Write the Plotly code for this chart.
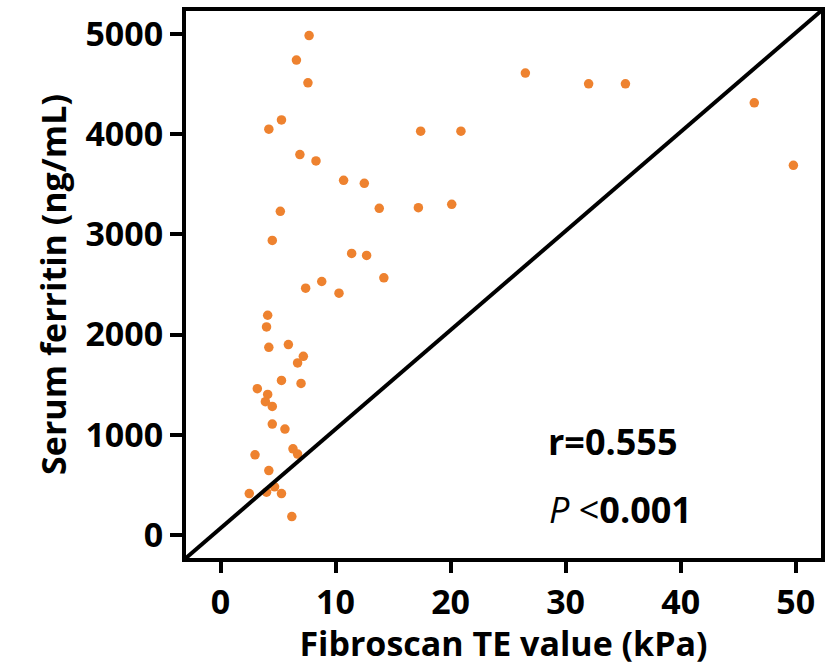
import plotly.graph_objects as go

# Fibroscan TE value (kPa)
te_kpa = [7.7, 6.6, 7.6, 5.3, 4.2, 6.9, 8.3, 10.7, 12.5, 13.8, 5.2, 4.5, 11.4, 12.7,
          8.8, 7.4, 10.3, 4.1, 4.0, 4.2, 5.9, 7.2, 6.7, 5.3, 7.0, 3.2, 4.1, 3.9, 4.5,
          4.5, 5.6, 6.3, 6.7, 3.0, 4.2, 4.7, 2.5, 4.0, 5.3, 6.2,
          26.5, 32.0, 35.2, 46.4, 49.8, 17.4, 20.9, 17.2, 20.1, 14.2]
# Serum ferritin (ng/mL)
ferritin = [4985, 4740, 4513, 4143, 4050, 3797, 3733, 3540, 3510, 3260, 3230, 2940, 2810, 2790,
            2530, 2463, 2413, 2193, 2077, 1873, 1900, 1783, 1717, 1543, 1513, 1460, 1403, 1330, 1283,
            1107, 1057, 860, 807, 800, 643, 480, 413, 427, 413, 183,
            4610, 4503, 4503, 4313, 3690, 4030, 4030, 3267, 3300, 2567]

x_ticks = [0, 10, 20, 30, 40, 50]
y_ticks = [0, 1000, 2000, 3000, 4000, 5000]

FONT = "Open Sans"

fig = go.Figure()
fig.add_trace(go.Scatter(
    x=te_kpa, y=ferritin, mode="markers",
    marker=dict(color="#EE822F", size=9.5, line=dict(width=0)),
    showlegend=False, hoverinfo="x+y"))

fig.add_shape(type="line", xref="x domain", yref="y domain",
              x0=0, y0=0, x1=1, y1=1, line=dict(color="black", width=4))

fig.add_annotation(x=28.3, y=930, xref="x", yref="y", text="r=0.555",
                   showarrow=False, xanchor="left", yanchor="middle",
                   font=dict(family=FONT, size=36, color="black", weight="bold"))
fig.add_annotation(x=28.4, y=250, xref="x", yref="y",
                   text="<span style='font-weight:normal'><i>P</i> &lt;</span>0.001",
                   showarrow=False, xanchor="left", yanchor="middle",
                   font=dict(family=FONT, size=36, color="black", weight="bold"))

axis_common = dict(showline=True, linecolor="black", linewidth=4, mirror=True,
                   ticks="outside", tickwidth=4, tickcolor="black",
                   showgrid=False, zeroline=False,
                   tickfont=dict(family=FONT, size=34, color="black", weight="bold"))

fig.update_xaxes(range=[-3.0, 52.2], tickvals=x_ticks, ticktext=[str(v) for v in x_ticks],
                 ticklen=11,
                 title=dict(text="Fibroscan TE value (kPa)", standoff=4,
                            font=dict(family=FONT, size=34, color="black", weight="bold")),
                 **axis_common)
fig.update_yaxes(range=[-230, 5230], tickvals=y_ticks, ticktext=[str(v) for v in y_ticks],
                 ticklen=12,
                 title=dict(text="Serum ferritin (ng/mL)", standoff=10,
                            font=dict(family=FONT, size=34, color="black", weight="bold")),
                 **axis_common)

fig.update_layout(width=830, height=666, margin=dict(l=186, r=5, t=11, b=108),
                  plot_bgcolor="white", paper_bgcolor="white")

# remove the default page margin and scrollbars so the 830x666 figure fills the window
fig.write_html("out.html", config={"displayModeBar": False},
               post_script="document.body.style.margin='0';document.body.style.overflow='hidden';")
